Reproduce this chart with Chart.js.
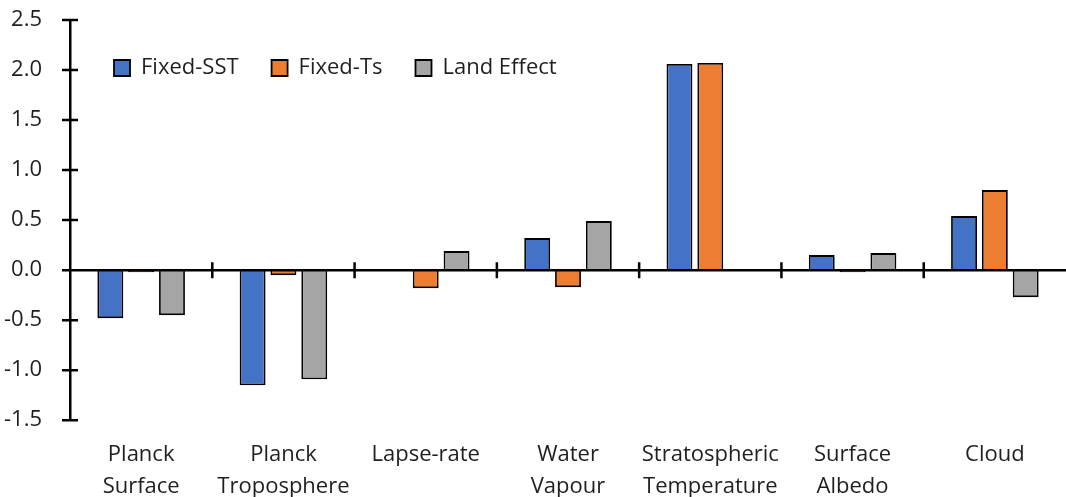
<!DOCTYPE html>
<html>
<head>
<meta charset="utf-8">
<script src="https://cdn.jsdelivr.net/npm/chart.js@4.4.0/dist/chart.umd.min.js"></script>
<style>
	html, body { margin: 0; padding: 0; background: #fff; }
	#wrap { width: 1066px; height: 497px; position: relative; }
</style>
</head>
<body>
<div id="wrap"><canvas id="chart"></canvas></div>
<script>
var categories = [
	['Planck', 'Surface'],
	['Planck', 'Troposphere'],
	'Lapse-rate',
	['Water', 'Vapour'],
	['Stratospheric', 'Temperature'],
	['Surface', 'Albedo'],
	'Cloud'
];
var seriesNames = ['Fixed-SST', 'Fixed-Ts', 'Land Effect'];
var fixedSST = [-0.48, -1.15, 0.01, 0.32, 2.06, 0.15, 0.54];
var fixedTs = [-0.02, -0.05, -0.18, -0.17, 2.07, -0.02, 0.80];
var landEffect = [-0.45, -1.09, 0.19, 0.49, 0, 0.17, -0.27];
var yTicks = [-1.5, -1.0, -0.5, 0.0, 0.5, 1.0, 1.5, 2.0, 2.5];

var textColor = '#1f1f1f';
var font = { family: '"Open Sans", sans-serif', size: 22 };

// zero line, crossing tick marks on both axes, legend in one row inside the plot
var axisMarks = {
	id: 'axisMarks',
	beforeLayout: function (chart) {
		chart.legend.isHorizontal = function () { return true; };
	},
	afterLayout: function (chart) {
		var area = chart.chartArea;
		chart.legend.left = area.left + 11;
		chart.legend.right = area.right;
		chart.legend.top = area.top + 4;
	},
	afterDatasetsDraw: function (chart) {
		var ctx = chart.ctx;
		var area = chart.chartArea;
		var x = chart.scales.x;
		var y = chart.scales.y;
		var y0 = y.getPixelForValue(0);
		ctx.save();
		ctx.strokeStyle = '#000';
		ctx.lineWidth = 2.5;
		ctx.beginPath();
		ctx.moveTo(area.left, y0);
		ctx.lineTo(area.right, y0);
		y.ticks.forEach(function (t, i) {
			var py = y.getPixelForTick(i);
			ctx.moveTo(area.left - 8, py);
			ctx.lineTo(area.left + 8, py);
		});
		for (var i = 1; i < x.ticks.length; i++) {
			var px = (x.getPixelForTick(i - 1) + x.getPixelForTick(i)) / 2;
			ctx.moveTo(px, y0 - 8);
			ctx.lineTo(px, y0 + 8);
		}
		ctx.stroke();
		ctx.restore();
	}
};

var ctx = document.getElementById('chart').getContext('2d');
var chart = new Chart(ctx, {
	type: 'bar',
	data: {
		labels: categories,
		datasets: [
			{ label: seriesNames[0], data: fixedSST, backgroundColor: '#4472C4' },
			{ label: seriesNames[1], data: fixedTs, backgroundColor: '#ED7D31' },
			{ label: seriesNames[2], data: landEffect, backgroundColor: '#A5A5A5' }
		]
	},
	options: {
		responsive: true,
		maintainAspectRatio: false,
		animation: false,
		datasets: {
			bar: {
				borderColor: '#000',
				borderWidth: 1.8,
				categoryPercentage: 0.65,
				barPercentage: 0.84
			}
		},
		layout: {
			padding: { left: -16, right: -7, top: 20, bottom: -17 }
		},
		plugins: {
			legend: {
				position: 'chartArea',
				align: 'start',
				labels: {
					boxWidth: 16,
					boxHeight: 16,
					padding: 33,
					color: textColor,
					font: font
				}
			},
			tooltip: { enabled: false }
		},
		scales: {
			x: {
				afterFit: function (axis) {
					axis.paddingLeft = 0;
					axis.paddingRight = 0;
				},
				grid: { display: false },
				border: { display: false },
				ticks: {
					color: textColor,
					font: { family: font.family, size: 22, lineHeight: 1.45 },
					padding: 11,
					maxRotation: 0,
					autoSkip: false
				}
			},
			y: {
				min: -1.5,
				max: 2.5,
				afterBuildTicks: function (axis) {
					axis.ticks = yTicks.map(function (v) { return { value: v }; });
				},
				afterFit: function (axis) {
					axis.paddingTop = 0;
					axis.paddingBottom = 0;
				},
				grid: { display: false },
				border: { display: true, color: '#000', width: 2.5 },
				ticks: {
					color: textColor,
					font: font,
					padding: 20,
					callback: function (v) { return Number(v).toFixed(1); }
				}
			}
		}
	},
	plugins: [axisMarks]
});
</script>
</body>
</html>
